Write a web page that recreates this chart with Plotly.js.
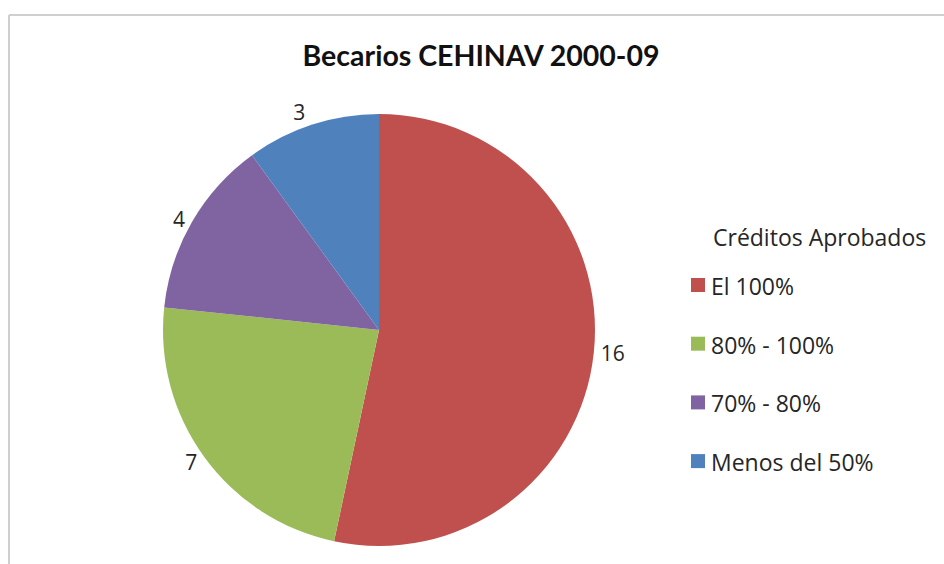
<!DOCTYPE html>
<html>
<head>
<meta charset="utf-8">
<script src="https://cdn.plot.ly/plotly-3.0.1.min.js"></script>
<style>html,body{margin:0;padding:0;background:#fff;}#chart{width:944px;height:564px;}</style>
</head>
<body>
<div id="chart"></div>
<script>
const categories = ["El 100%", "80% - 100%", "70% - 80%", "Menos del 50%"];
const values = [16, 7, 4, 3];
const colors = ["#C0504D", "#9BBB59", "#8064A2", "#4F81BD"];
const chartTitle = "Becarios CEHINAV 2000-09";
const legendTitle = "Créditos Aprobados";

const W = 944, H = 564;
const px = x => x / W;
const py = y => (H - y) / H;

const FONT = "'Open Sans', sans-serif";
const TFONT = "Lato, 'Open Sans', sans-serif";

const annotations = [{
  text: legendTitle, xref: 'paper', yref: 'paper', x: px(711), y: py(237),
  xanchor: 'left', yanchor: 'middle', showarrow: false,
  font: {family: FONT, size: 23, color: '#262626'}
}];
const shapes = [
  {type: 'line', xref: 'paper', yref: 'paper', x0: px(9), x1: 1, y0: py(15), y1: py(15), line: {color: '#cfcfcf', width: 2}},
  {type: 'line', xref: 'paper', yref: 'paper', x0: px(9), x1: px(9), y0: py(15), y1: 0, line: {color: '#cfcfcf', width: 2}}
];
const itemY0 = 285, itemGap = 58.7;
categories.forEach((c, i) => {
  const yc = itemY0 + i * itemGap;
  shapes.push({type: 'rect', xref: 'paper', yref: 'paper',
    x0: px(691), x1: px(705), y0: py(yc - 7), y1: py(yc + 7),
    fillcolor: colors[i], line: {width: 0}});
  annotations.push({text: c, xref: 'paper', yref: 'paper', x: px(709), y: py(yc + 1),
    xanchor: 'left', yanchor: 'middle', showarrow: false,
    font: {family: FONT, size: 23, color: '#262626'}});
});

const trace = {
  type: 'pie',
  labels: categories,
  values: values,
  sort: false,
  direction: 'clockwise',
  rotation: 0,
  marker: {colors: colors, line: {width: 0}},
  textinfo: 'value',
  textposition: 'outside',
  outsidetextfont: {family: FONT, size: 21, color: '#262626'},
  domain: {x: [px(163), px(595)], y: [py(546), py(114)]},
  hoverinfo: 'label+value',
  showlegend: false
};

const layout = {
  width: W, height: H,
  margin: {l: 0, r: 0, t: 0, b: 0},
  paper_bgcolor: '#fff',
  title: {text: '<b>' + chartTitle + '</b>', x: px(481), xanchor: 'center', y: py(56), yanchor: 'middle',
    font: {family: TFONT, size: 28.5, color: '#111'}},
  showlegend: false,
  annotations: annotations,
  shapes: shapes
};

Plotly.newPlot('chart', [trace], layout, {displayModeBar: false, staticPlot: true});
</script>
</body>
</html>
